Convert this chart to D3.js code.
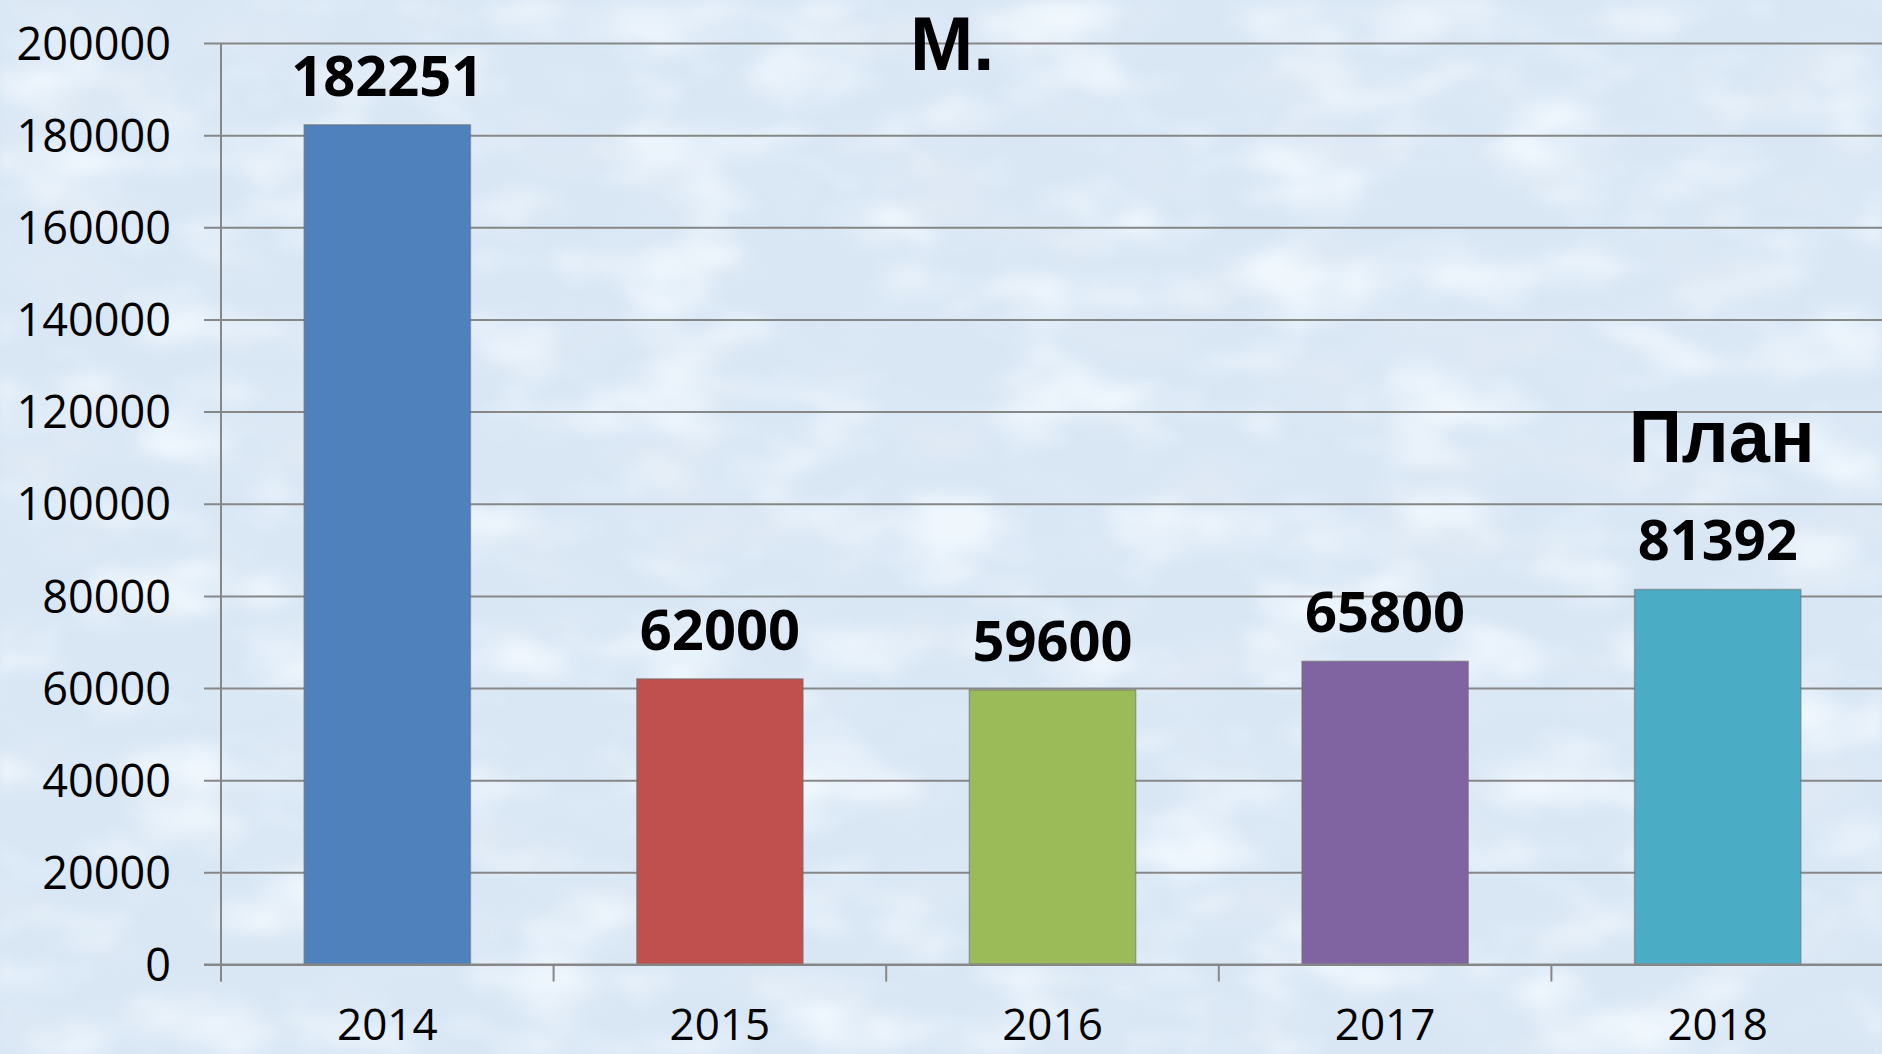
<!DOCTYPE html>
<html>
<head>
<meta charset="utf-8">
<script src="https://cdn.jsdelivr.net/npm/d3@7"></script>
<style>
  html, body { margin: 0; padding: 0; background: #dae8f6; }
  svg { display: block; }
</style>
</head>
<body>
<svg id="chart" width="1882" height="1054"></svg>
<script>
// Yearly volumes, the last year being the plan
const years = ["2014", "2015", "2016", "2017", "2018"];
const values = [182251, 62000, 59600, 65800, 81392];
const barColors = ["#4f81bd", "#c0504d", "#9bbb59", "#8064a2", "#4bacc6"];
const yTicks = [0, 20000, 40000, 60000, 80000, 100000, 120000, 140000, 160000, 180000, 200000];
const unitLabel = "М.";
const planLabel = "План";

(function draw() {
  const W = 1882, H = 1054;
  const svg = d3.select("#chart");

  // mottled light-blue backdrop: darker and lighter soft blotches
  const defs = svg.append("defs");
  function blotches(id, seed, rgb, gain, bias) {
    const f = defs.append("filter").attr("id", id)
      .attr("x", 0).attr("y", 0).attr("width", "100%").attr("height", "100%");
    f.append("feTurbulence").attr("type", "fractalNoise")
      .attr("baseFrequency", "0.008 0.016").attr("numOctaves", 3).attr("seed", seed).attr("result", "n");
    f.append("feColorMatrix").attr("in", "n").attr("type", "matrix")
      .attr("values", `0 0 0 0 ${rgb[0]}  0 0 0 0 ${rgb[1]}  0 0 0 0 ${rgb[2]}  ${gain} 0 0 0 ${bias}`)
      .attr("result", "c");
    f.append("feGaussianBlur").attr("in", "c").attr("stdDeviation", 4);
  }
  blotches("mottleDark", 7, [0.76, 0.83, 0.91], 3.0, -1.45);
  blotches("mottleLight", 23, [0.91, 0.96, 1.0], 3.0, -1.45);

  svg.append("rect").attr("width", W).attr("height", H).attr("fill", "#d9e7f5");
  svg.append("rect").attr("width", W).attr("height", H).attr("filter", "url(#mottleDark)").attr("opacity", 0.75);
  svg.append("rect").attr("width", W).attr("height", H).attr("filter", "url(#mottleLight)").attr("opacity", 0.8);

  const plotL = 221, plotR = 1884, plotT = 43, plotB = 964.5;

  const x = d3.scaleBand().domain(years).range([plotL, plotR]).paddingInner(0.5).paddingOuter(0.25);
  const y = d3.scaleLinear().domain([0, 200000]).range([plotB, plotT]);

  const grid = "#878787";

  // horizontal gridlines with small ticks to the left of the axis
  const yAxis = d3.axisLeft(y).tickValues(yTicks).tickSize(-(plotR - plotL)).tickSizeOuter(0)
    .tickFormat(d3.format("d")).tickPadding(50);
  const gy = svg.append("g").attr("transform", `translate(${plotL},0)`).call(yAxis);
  gy.select(".domain").remove();
  gy.selectAll(".tick line").attr("x1", -17).attr("stroke", grid).attr("stroke-width", 2);
  gy.selectAll(".tick text")
    .attr("font-family", "'Open Sans', sans-serif").attr("font-size", 45).attr("fill", "#000")
    .attr("dy", "0.36em");

  // vertical axis line
  svg.append("line").attr("x1", plotL).attr("x2", plotL).attr("y1", plotT).attr("y2", plotB + 17)
    .attr("stroke", grid).attr("stroke-width", 2);

  // category separators below the baseline
  const sepX = years.map((d, i) => plotL + i * (plotR - plotL) / years.length);
  svg.append("g").selectAll("line").data(sepX).join("line")
    .attr("x1", d => d).attr("x2", d => d).attr("y1", plotB).attr("y2", plotB + 17)
    .attr("stroke", grid).attr("stroke-width", 2);

  // bars
  svg.append("g").selectAll("rect").data(values).join("rect")
    .attr("x", (d, i) => x(years[i]))
    .attr("width", x.bandwidth())
    .attr("y", d => y(d))
    .attr("height", d => y(0) - y(d))
    .attr("fill", (d, i) => barColors[i])
    .attr("stroke", "rgba(110,110,110,0.55)").attr("stroke-width", 1.5);

  // baseline redrawn on top of bars
  svg.append("line").attr("x1", plotL - 17).attr("x2", plotR).attr("y1", plotB).attr("y2", plotB)
    .attr("stroke", grid).attr("stroke-width", 2);

  // value labels
  svg.append("g").selectAll("text").data(values).join("text")
    .attr("x", (d, i) => x(years[i]) + x.bandwidth() / 2)
    .attr("y", d => y(d) - 29)
    .attr("text-anchor", "middle")
    .attr("font-family", "'Open Sans', sans-serif").attr("font-weight", 700).attr("font-size", 56)
    .attr("fill", "#000")
    .text(d => d);

  // category labels
  svg.append("g").selectAll("text").data(years).join("text")
    .attr("x", d => x(d) + x.bandwidth() / 2)
    .attr("y", 1040)
    .attr("text-anchor", "middle")
    .attr("font-family", "'Open Sans', sans-serif").attr("font-size", 44).attr("fill", "#000")
    .text(d => d);

  // plan marker above the last bar
  const lastYear = years[years.length - 1];
  svg.append("text")
    .attr("x", x(lastYear) + x.bandwidth() / 2 + 4)
    .attr("y", 462)
    .attr("text-anchor", "middle")
    .attr("font-family", "'Liberation Sans', Arial, sans-serif").attr("font-weight", 700).attr("font-size", 74)
    .attr("fill", "#000")
    .text(planLabel);

  // unit caption
  svg.append("text")
    .attr("x", 910).attr("y", 70)
    .attr("font-family", "'Liberation Sans', Arial, sans-serif").attr("font-weight", 700).attr("font-size", 76)
    .attr("fill", "#000")
    .text(unitLabel);
})();
</script>
</body>
</html>
